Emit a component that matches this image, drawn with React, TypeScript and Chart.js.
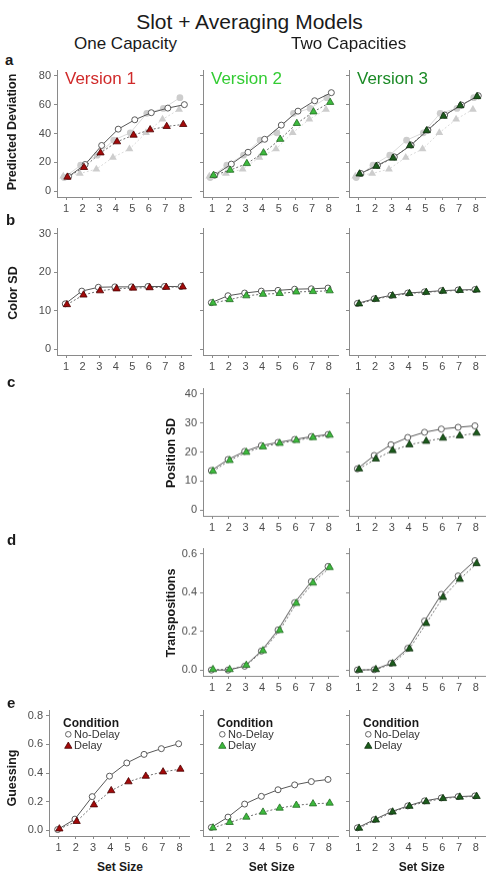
import React, { useEffect, useRef } from 'react';
import { Chart, registerables } from 'chart.js';

Chart.register(...registerables);

const FONT = "'Liberation Sans', Arial, Helvetica, sans-serif";
const AXIS = '#8a8a8a';
const TICK_TEXT = '#4d4d4d';

// ---- data -------------------------------------------------------------
const setSizes = [1, 2, 3, 4, 5, 6, 7, 8];

// Observed deviation (grey, shown behind each model in row a)
const obsNoDelayDev = [9.5, 18, 25, 35.4, 40.5, 54, 57.4, 64.8];
const obsDelayDev = [10.4, 12.3, 15.3, 23.4, 29.2, 40.5, 49.8, 56.7];

// Predicted deviation
const v1NoDelayDev = [10.2, 18.5, 31.7, 43, 49.5, 54.4, 57.6, 60];
const v1DelayDev = [9.8, 16.5, 26.6, 34.3, 38.9, 42.6, 44.9, 46.3];
const v2NoDelayDev = [11.1, 18.8, 27, 36, 45.8, 55.5, 62.7, 68.3];
const v2DelayDev = [11, 14.6, 19.2, 26.6, 36, 47, 55, 61.6];
const v3NoDelayDev = [12.3, 18, 23.8, 32, 42.4, 52.8, 59.7, 66.2];
const v3DelayDev = [12, 17.3, 23, 31.6, 42, 52, 59.3, 65.6];

// Color SD
const v1NoDelayColor = [11.8, 15.1, 16.1, 16.2, 16.2, 16.3, 16.3, 16.3];
const v1DelayColor = [11.6, 14.1, 15.2, 15.7, 15.9, 16, 16.1, 16.2];
const v2NoDelayColor = [12.1, 13.9, 14.6, 15.1, 15.3, 15.6, 15.7, 15.9];
const v2DelayColor = [12, 12.9, 13.9, 14.3, 14.5, 14.9, 15, 15.2];
const v3NoDelayColor = [11.9, 13.1, 14, 14.6, 14.9, 15.2, 15.4, 15.5];
const v3DelayColor = [11.8, 13, 13.9, 14.5, 14.8, 15.1, 15.3, 15.4];

// Position SD
const v2NoDelayPos = [13.6, 17.4, 20.2, 22.2, 23.3, 24.3, 25.3, 26];
const v2DelayPos = [13.4, 17.1, 19.9, 21.8, 23, 24, 25, 25.8];
const v3NoDelayPos = [14.2, 18.8, 22.5, 25, 26.8, 27.9, 28.5, 29];
const v3DelayPos = [14.2, 17.6, 20.5, 22.5, 23.7, 24.8, 25.6, 26.5];

// Transpositions
const v2NoDelayTrans = [0, 0, 0.02, 0.098, 0.207, 0.348, 0.457, 0.535];
const v2DelayTrans = [0.003, 0.003, 0.025, 0.1, 0.205, 0.345, 0.45, 0.53];
const v3NoDelayTrans = [0, 0.002, 0.035, 0.112, 0.253, 0.391, 0.486, 0.565];
const v3DelayTrans = [0, 0.003, 0.033, 0.11, 0.241, 0.376, 0.469, 0.55];

// Guessing
const v1NoDelayGuess = [0.005, 0.078, 0.235, 0.378, 0.47, 0.53, 0.57, 0.604];
const v1DelayGuess = [0.01, 0.062, 0.178, 0.277, 0.339, 0.378, 0.408, 0.427];
const v2NoDelayGuess = [0.02, 0.092, 0.183, 0.237, 0.283, 0.317, 0.34, 0.355];
const v2DelayGuess = [0.017, 0.055, 0.092, 0.127, 0.155, 0.175, 0.185, 0.19];
const v3NoDelayGuess = [0.017, 0.074, 0.129, 0.17, 0.205, 0.226, 0.235, 0.24];
const v3DelayGuess = [0.015, 0.072, 0.128, 0.168, 0.2, 0.222, 0.232, 0.237];

// Tick values
const devTicks = [0, 20, 40, 60, 80];
const colorTicks = [0, 10, 20, 30];
const posTicks = [0, 10, 20, 30, 40];
const transTicks = [0, 0.2, 0.4, 0.6];
const guessTicks = [0, 0.2, 0.4, 0.6, 0.8];

// Version palettes
const V1 = { fill: '#a30a0a', edge: '#4a0000', text: '#d02a2a' };
const V2 = { fill: '#3dba3d', edge: '#246b24', text: '#33cc33' };
const V3 = { fill: '#1c5c1c', edge: '#0d2f0d', text: '#1b8a26' };

// ---- layout ----------------------------------------------------------
const YW = 40; // reserved width for y tick labels
const PT = 10; // top padding inside each canvas
const PR = 6; // right padding inside each canvas
const XH = 22; // reserved height for x tick labels

type Box = { l: number; t: number; r: number; b: number };
type Palette = { fill: string; edge: string; text: string };

interface PanelSpec {
  box: Box;
  yMin: number;
  yMax: number;
  yTicks: number[];
  decimals: number;
  yLabels: boolean;
  noDelay: number[];
  delay: number[];
  obsNoDelay?: number[];
  obsDelay?: number[];
  pal: Palette;
  version?: string;
  legend?: boolean;
  shift: [number, number];
}

const ROW_A = { t: 70, b: 197 };
const ROW_B = { t: 228, b: 355 };
const ROW_C = { t: 388, b: 515.7 };
const ROW_D = { t: 548, b: 675.7 };
const ROW_E = { t: 710, b: 836 };
const COL1 = { l: 57, r: 191 };
const COL1E = { l: 49, r: 189 };
const COL2 = { l: 203, r: 338 };
const COL3 = { l: 349, r: 485 };

const DEV = { yMin: -4, yMax: 84, yTicks: devTicks, decimals: 0 };
const COLOR = { yMin: -1.5, yMax: 31.5, yTicks: colorTicks, decimals: 0 };
const POS = { yMin: -2, yMax: 42, yTicks: posTicks, decimals: 0 };
const TRANS = { yMin: -0.03, yMax: 0.63, yTicks: transTicks, decimals: 1 };
const GUESS = { yMin: -0.04, yMax: 0.84, yTicks: guessTicks, decimals: 1 };

const SHIFT_A: [number, number] = [0.15, 0.08];
const SHIFT: [number, number] = [-0.05, 0.05];

const panels: PanelSpec[] = [
  { box: { ...COL1, ...ROW_A }, ...DEV, yLabels: true, noDelay: v1NoDelayDev, delay: v1DelayDev, obsNoDelay: obsNoDelayDev, obsDelay: obsDelayDev, pal: V1, version: 'Version 1', shift: SHIFT_A },
  { box: { ...COL2, ...ROW_A }, ...DEV, yLabels: false, noDelay: v2NoDelayDev, delay: v2DelayDev, obsNoDelay: obsNoDelayDev, obsDelay: obsDelayDev, pal: V2, version: 'Version 2', shift: SHIFT_A },
  { box: { ...COL3, ...ROW_A }, ...DEV, yLabels: false, noDelay: v3NoDelayDev, delay: v3DelayDev, obsNoDelay: obsNoDelayDev, obsDelay: obsDelayDev, pal: V3, version: 'Version 3', shift: SHIFT_A },

  { box: { ...COL1, ...ROW_B }, ...COLOR, yLabels: true, noDelay: v1NoDelayColor, delay: v1DelayColor, pal: V1, shift: SHIFT },
  { box: { ...COL2, ...ROW_B }, ...COLOR, yLabels: false, noDelay: v2NoDelayColor, delay: v2DelayColor, pal: V2, shift: SHIFT },
  { box: { ...COL3, ...ROW_B }, ...COLOR, yLabels: false, noDelay: v3NoDelayColor, delay: v3DelayColor, pal: V3, shift: SHIFT },

  { box: { ...COL2, ...ROW_C }, ...POS, yLabels: true, noDelay: v2NoDelayPos, delay: v2DelayPos, pal: V2, shift: SHIFT },
  { box: { ...COL3, ...ROW_C }, ...POS, yLabels: false, noDelay: v3NoDelayPos, delay: v3DelayPos, pal: V3, shift: SHIFT },

  { box: { ...COL2, ...ROW_D }, ...TRANS, yLabels: true, noDelay: v2NoDelayTrans, delay: v2DelayTrans, pal: V2, shift: SHIFT },
  { box: { ...COL3, ...ROW_D }, ...TRANS, yLabels: false, noDelay: v3NoDelayTrans, delay: v3DelayTrans, pal: V3, shift: SHIFT },

  { box: { ...COL1E, ...ROW_E }, ...GUESS, yLabels: true, noDelay: v1NoDelayGuess, delay: v1DelayGuess, pal: V1, legend: true, shift: SHIFT },
  { box: { ...COL2, ...ROW_E }, ...GUESS, yLabels: false, noDelay: v2NoDelayGuess, delay: v2DelayGuess, pal: V2, legend: true, shift: SHIFT },
  { box: { ...COL3, ...ROW_E }, ...GUESS, yLabels: false, noDelay: v3NoDelayGuess, delay: v3DelayGuess, pal: V3, legend: true, shift: SHIFT },
];

function drawTriangle(ctx: CanvasRenderingContext2D, x: number, y: number, r: number) {
  ctx.beginPath();
  for (let k = 0; k < 3; k++) {
    const a = (k * 2 * Math.PI) / 3;
    const px = x + Math.sin(a) * r;
    const py = y - Math.cos(a) * r;
    if (k === 0) ctx.moveTo(px, py);
    else ctx.lineTo(px, py);
  }
  ctx.closePath();
}

function Panel({ spec }: { spec: PanelSpec }) {
  const ref = useRef<HTMLCanvasElement>(null);
  const { box } = spec;
  const w = YW + (box.r - box.l) + PR;
  const h = PT + (box.b - box.t) + XH;

  useEffect(() => {
    const canvas = ref.current;
    if (!canvas) return;
    const pts = (vals: number[], dx: number) => setSizes.map((s, i) => ({ x: s + dx, y: vals[i] }));

    const datasets: any[] = [
      {
        data: pts(spec.delay, spec.shift[1]),
        borderColor: '#6e6e6e',
        borderWidth: 1,
        borderDash: [2, 2],
        pointStyle: 'triangle',
        pointRadius: 4.2,
        pointBackgroundColor: spec.pal.fill,
        pointBorderColor: spec.pal.edge,
        pointBorderWidth: 0.8,
      },
      {
        data: pts(spec.noDelay, spec.shift[0]),
        borderColor: '#575757',
        borderWidth: 1,
        pointStyle: 'circle',
        pointRadius: 3,
        pointBackgroundColor: '#ffffff',
        pointBorderColor: '#5a5a5a',
        pointBorderWidth: 1,
      },
    ];
    if (spec.obsDelay) {
      datasets.push({
        data: pts(spec.obsDelay, -0.17),
        borderColor: '#dadada',
        borderWidth: 1,
        borderDash: [2, 2],
        pointStyle: 'triangle',
        pointRadius: 4.5,
        pointBackgroundColor: '#cdcdcd',
        pointBorderColor: '#cdcdcd',
        pointBorderWidth: 0,
      });
    }
    if (spec.obsNoDelay) {
      datasets.push({
        data: pts(spec.obsNoDelay, -0.12),
        borderColor: '#dadada',
        borderWidth: 1,
        pointStyle: 'circle',
        pointRadius: 3.4,
        pointBackgroundColor: '#cdcdcd',
        pointBorderColor: '#cdcdcd',
        pointBorderWidth: 0,
      });
    }

    const panelText = {
      id: 'panelText',
      afterDatasetsDraw(chart: Chart) {
        const { ctx, chartArea } = chart;
        const L = chartArea.left;
        const T = chartArea.top;
        ctx.save();
        ctx.textBaseline = 'alphabetic';
        ctx.textAlign = 'left';
        if (spec.version) {
          ctx.font = `17px ${FONT}`;
          ctx.fillStyle = spec.pal.text;
          ctx.fillText(spec.version, L + 8, T + 13.5);
        }
        if (spec.legend) {
          ctx.font = `bold 12px ${FONT}`;
          ctx.fillStyle = '#1a1a1a';
          ctx.fillText('Condition', L + 14, T + 16.7);
          ctx.beginPath();
          ctx.arc(L + 19.3, T + 24.3, 2.8, 0, Math.PI * 2);
          ctx.fillStyle = '#ffffff';
          ctx.fill();
          ctx.lineWidth = 1;
          ctx.strokeStyle = '#666666';
          ctx.stroke();
          drawTriangle(ctx, L + 19.3, T + 36.2, 4.2);
          ctx.fillStyle = spec.pal.fill;
          ctx.fill();
          ctx.lineWidth = 0.8;
          ctx.strokeStyle = spec.pal.edge;
          ctx.stroke();
          ctx.font = `11px ${FONT}`;
          ctx.fillStyle = '#333333';
          ctx.fillText('No-Delay', L + 25, T + 28.3);
          ctx.fillText('Delay', L + 25, T + 39.3);
        }
        ctx.restore();
      },
    };

    const axisCommon = {
      grid: { drawOnChartArea: false, drawTicks: true, tickLength: 3, color: AXIS, lineWidth: 1 },
      border: { display: true, color: AXIS, width: 1 },
    };

    const chart = new Chart(canvas, {
      type: 'line',
      data: { datasets },
      options: {
        responsive: false,
        animation: false,
        devicePixelRatio: 1,
        layout: { padding: { top: PT, right: PR, left: 0, bottom: 0 } },
        elements: { line: { tension: 0 } },
        plugins: { legend: { display: false }, tooltip: { enabled: false }, title: { display: false } },
        scales: {
          x: {
            type: 'linear',
            min: 0.45,
            max: 8.55,
            ...axisCommon,
            afterBuildTicks: (s: any) => {
              s.ticks = setSizes.map((v) => ({ value: v }));
            },
            afterFit: (s: any) => {
              s.height = XH;
            },
            ticks: {
              font: { family: FONT, size: 11 },
              color: TICK_TEXT,
              padding: 2,
              autoSkip: false,
              maxRotation: 0,
              callback: (v: any) => String(v),
            },
          },
          y: {
            type: 'linear',
            min: spec.yMin,
            max: spec.yMax,
            ...axisCommon,
            afterBuildTicks: (s: any) => {
              s.ticks = spec.yTicks.map((v) => ({ value: v }));
            },
            afterFit: (s: any) => {
              s.width = YW;
            },
            ticks: {
              font: { family: FONT, size: 11 },
              color: TICK_TEXT,
              padding: 3,
              autoSkip: false,
              callback: (v: any) => (spec.yLabels ? Number(v).toFixed(spec.decimals) : ''),
            },
          },
        },
      } as any,
      plugins: [panelText as any],
    });
    return () => chart.destroy();
  }, []);

  return (
    <canvas
      ref={ref}
      width={w}
      height={h}
      style={{ position: 'absolute', left: box.l - YW, top: box.t - PT, width: w, height: h }}
    />
  );
}

function Text({ x, y, text, size, bold, center, color }: { x: number; y: number; text: string; size: number; bold?: boolean; center?: boolean; color?: string }) {
  // y is the baseline
  return (
    <div
      style={{
        position: 'absolute',
        left: x,
        top: y - 0.8465 * size,
        fontFamily: FONT,
        fontSize: size,
        lineHeight: 1,
        fontWeight: bold ? 'bold' : 'normal',
        color: color || '#1a1a1a',
        whiteSpace: 'nowrap',
        transform: center ? 'translateX(-50%)' : undefined,
      }}
    >
      {text}
    </div>
  );
}

function VText({ cx, cy, text }: { cx: number; cy: number; text: string }) {
  return (
    <div
      style={{
        position: 'absolute',
        left: cx,
        top: cy,
        fontFamily: FONT,
        fontSize: 12.5,
        lineHeight: 1,
        fontWeight: 'bold',
        color: '#1a1a1a',
        whiteSpace: 'nowrap',
        transform: 'translate(-50%, -50%) rotate(-90deg)',
      }}
    >
      {text}
    </div>
  );
}

export default function App() {
  return (
    <div style={{ position: 'absolute', left: 0, top: 0, width: 493, height: 880, background: '#ffffff', overflow: 'hidden' }}>
      {panels.map((p, i) => (
        <Panel key={i} spec={p} />
      ))}

      <Text x={249.5} y={28.3} text="Slot + Averaging Models" size={21} center />
      <Text x={125.5} y={49.3} text="One Capacity" size={17} center />
      <Text x={348.7} y={49.3} text="Two Capacities" size={17} center />

      <Text x={5} y={65} text="a" size={15} bold />
      <Text x={6} y={225} text="b" size={15} bold />
      <Text x={7} y={386.7} text="c" size={15} bold />
      <Text x={7} y={545} text="d" size={15} bold />
      <Text x={7} y={708} text="e" size={15} bold />

      <VText cx={11.7} cy={131.7} text="Predicted Deviation" />
      <VText cx={12.5} cy={293} text="Color SD" />
      <VText cx={171.3} cy={452.8} text="Position SD" />
      <VText cx={171.3} cy={613} text="Transpositions" />
      <VText cx={12} cy={778} text="Guessing" />

      <Text x={120} y={870.7} text="Set Size" size={12} bold center />
      <Text x={271.7} y={870.7} text="Set Size" size={12} bold center />
      <Text x={421.7} y={870.7} text="Set Size" size={12} bold center />
    </div>
  );
}
